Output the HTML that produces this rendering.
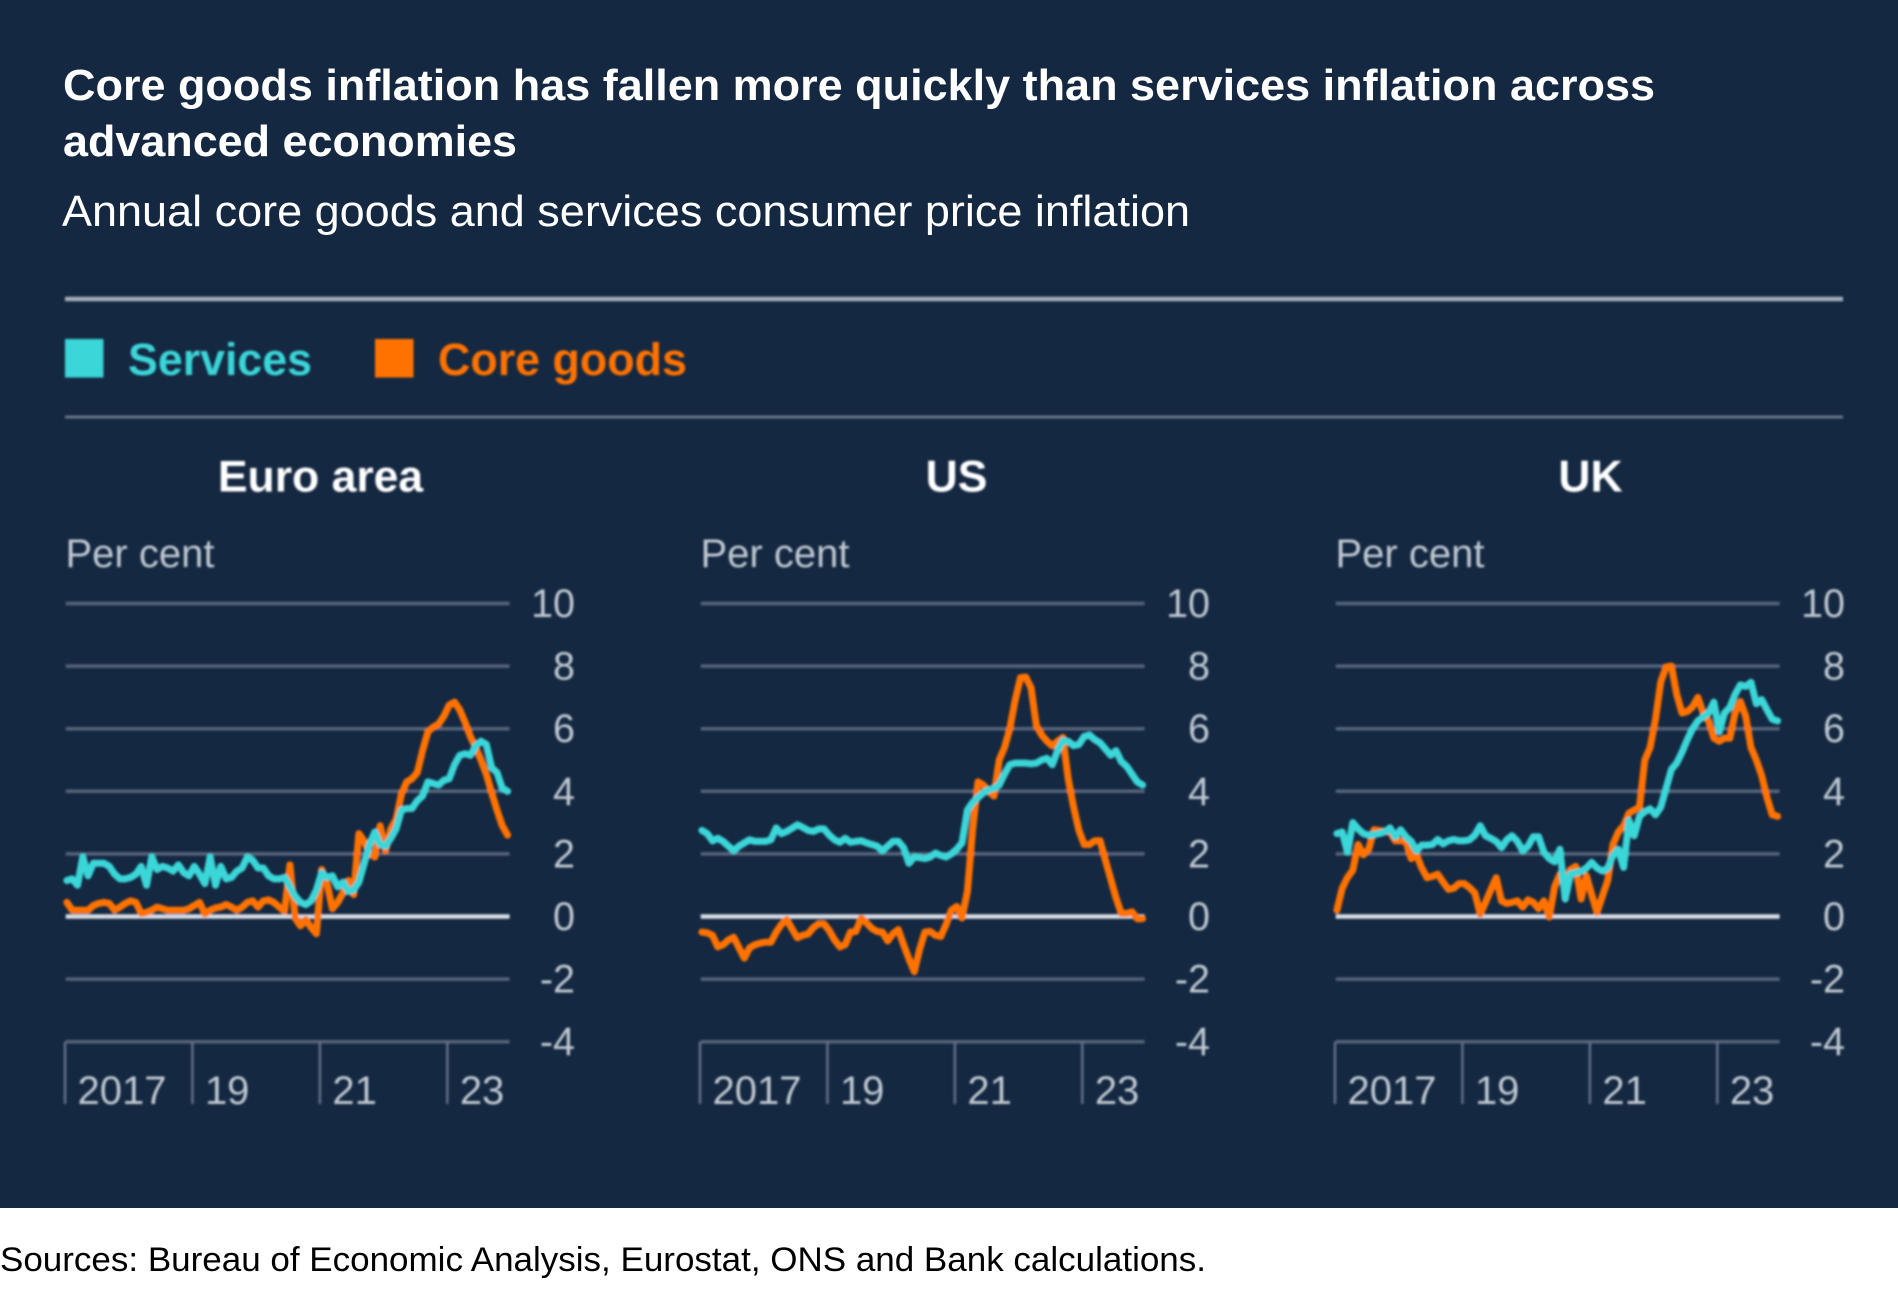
<!DOCTYPE html>
<html lang="en">
<head>
<meta charset="utf-8">
<title>Core goods and services inflation</title>
<style>
html,body{margin:0;padding:0;background:#fff;}
svg{display:block;font-family:"Liberation Sans",Arial,sans-serif;}
</style>
</head>
<body>
<svg id="page" xmlns="http://www.w3.org/2000/svg" width="1898" height="1296" viewBox="0 0 1898 1296">
  <defs>
    <filter id="soft" x="-2%" y="-2%" width="104%" height="104%"><feGaussianBlur stdDeviation="1"/></filter>
  </defs>
  <rect x="0" y="0" width="1898" height="1296" fill="#ffffff"/>
  <rect x="0" y="0" width="1898" height="1208" fill="#142841"/>
  <text x="63" y="100" font-size="44" font-weight="700" fill="#ffffff" textLength="1592" lengthAdjust="spacingAndGlyphs">Core goods inflation has fallen more quickly than services inflation across</text>
  <text x="63" y="156" font-size="44" font-weight="700" fill="#ffffff" textLength="454" lengthAdjust="spacingAndGlyphs">advanced economies</text>
  <text x="62" y="226" font-size="44" fill="#ffffff" textLength="1128" lengthAdjust="spacingAndGlyphs">Annual core goods and services consumer price inflation</text>
  <g id="soft-layer" filter="url(#soft)">
    <line x1="65" x2="1843" y1="299" y2="299" stroke="#a3adb9" stroke-width="4.5"/>
    <line x1="65" x2="1843" y1="417" y2="417" stroke="#67748a" stroke-width="3"/>
    <g>
      <rect x="65" y="339" width="38.5" height="38.5" fill="#3bd6d8"/>
      <text x="128" y="375" font-size="45.5" font-weight="700" fill="#3bd6d8" textLength="184" lengthAdjust="spacingAndGlyphs">Services</text>
    </g>
    <g>
      <rect x="375" y="339" width="38.5" height="38.5" fill="#ff7200"/>
      <text x="438" y="375" font-size="45.5" font-weight="700" fill="#ff7200" textLength="249" lengthAdjust="spacingAndGlyphs">Core goods</text>
    </g>
    <g id="panels"></g>
  </g>
  <text x="0" y="1271" font-size="34" fill="#000000" textLength="1206" lengthAdjust="spacingAndGlyphs">Sources: Bureau of Economic Analysis, Eurostat, ONS and Bank calculations.</text>
</svg>
<script>
const panelNames = ['Euro area', 'US', 'UK'];
const unitLabel = 'Per cent';
const yTickValues = [10, 8, 6, 4, 2, 0, -2, -4];
const xTickMonths = [0, 24, 48, 72];
const xTickLabels = ['2017', '19', '21', '23'];

const euroServices = [1.15,1.2,1.0,1.9,1.3,1.7,1.7,1.7,1.6,1.35,1.2,1.2,1.25,1.35,1.6,1.0,1.9,1.5,1.6,1.55,1.45,1.65,1.4,1.3,1.6,1.35,1.05,1.9,1.0,1.6,1.2,1.25,1.45,1.55,1.9,1.8,1.55,1.55,1.3,1.2,1.2,1.25,0.95,0.65,0.45,0.38,0.5,0.85,1.4,1.25,1.3,0.95,1.1,0.8,0.85,1.1,1.7,2.3,2.7,2.3,2.25,2.5,2.8,3.4,3.45,3.45,3.7,3.85,4.3,4.25,4.2,4.35,4.4,4.85,5.15,5.2,5.15,5.45,5.6,5.5,4.75,4.6,4.1,4.0];
const euroGoods = [0.45,0.2,0.2,0.2,0.2,0.35,0.42,0.45,0.42,0.2,0.3,0.42,0.5,0.45,0.1,0.13,0.2,0.3,0.25,0.2,0.2,0.2,0.2,0.25,0.35,0.45,0.08,0.2,0.27,0.3,0.38,0.3,0.2,0.3,0.45,0.5,0.3,0.5,0.53,0.45,0.3,0.17,1.65,-0.05,-0.3,-0.1,-0.35,-0.55,1.5,1.05,0.25,0.45,0.75,1.15,0.7,2.65,2.4,2.0,1.9,2.9,2.1,2.8,3.1,3.9,4.3,4.4,4.6,5.3,5.9,6.05,6.15,6.4,6.75,6.85,6.6,6.2,5.75,5.4,5.0,4.55,3.95,3.4,2.9,2.6];
const usServices = [2.75,2.65,2.42,2.5,2.4,2.25,2.1,2.25,2.35,2.45,2.4,2.4,2.4,2.45,2.83,2.65,2.72,2.82,2.93,2.85,2.75,2.72,2.8,2.8,2.6,2.45,2.37,2.5,2.37,2.4,2.42,2.35,2.3,2.25,2.1,2.25,2.4,2.4,2.2,1.7,1.9,1.88,1.85,1.9,2.03,1.95,1.9,2.0,2.15,2.35,3.4,3.65,3.8,3.95,4.05,4.1,4.2,4.55,4.85,4.9,4.9,4.9,4.88,4.9,5.0,5.05,4.85,5.3,5.62,5.6,5.46,5.5,5.75,5.8,5.65,5.55,5.35,5.15,5.3,4.95,4.8,4.55,4.3,4.2];
const usGoods = [-0.5,-0.52,-0.6,-0.97,-0.9,-0.75,-0.66,-1.0,-1.33,-1.0,-0.9,-0.85,-0.82,-0.82,-0.5,-0.25,-0.1,-0.4,-0.68,-0.6,-0.56,-0.35,-0.23,-0.23,-0.45,-0.75,-0.97,-0.9,-0.5,-0.48,-0.05,-0.2,-0.38,-0.48,-0.5,-0.78,-0.55,-0.42,-0.9,-1.35,-1.76,-1.05,-0.5,-0.48,-0.6,-0.64,-0.25,0.2,0.32,-0.05,0.8,2.8,4.3,4.2,4.0,3.85,5.0,5.4,6.0,6.9,7.63,7.65,7.3,6.1,5.8,5.6,5.45,5.6,5.72,4.4,3.5,2.75,2.3,2.3,2.42,2.42,1.8,1.2,0.6,0.1,0.1,0.15,-0.07,-0.07];
const ukServices = [2.65,2.7,2.05,3.0,2.8,2.65,2.6,2.62,2.65,2.7,2.83,2.55,2.77,2.55,2.4,2.1,2.28,2.28,2.3,2.46,2.32,2.42,2.46,2.42,2.42,2.45,2.6,2.9,2.58,2.5,2.4,2.2,2.45,2.58,2.4,2.1,2.25,2.55,2.55,2.05,1.85,1.75,2.15,0.56,1.36,1.4,1.44,1.55,1.73,1.55,1.45,1.55,1.95,2.15,1.57,3.07,2.58,3.2,3.35,3.44,3.25,3.5,4.1,4.7,4.9,5.25,5.65,6.0,6.25,6.38,6.5,6.85,5.9,6.5,6.68,7.1,7.4,7.35,7.48,6.8,6.93,6.6,6.3,6.25];
const ukGoods = [0.2,0.9,1.25,1.48,2.3,1.97,2.15,2.77,2.75,2.72,2.7,2.42,2.42,2.4,1.85,1.97,1.55,1.24,1.28,1.35,1.1,0.87,0.9,1.05,1.05,0.92,0.75,0.07,0.45,0.85,1.24,0.5,0.42,0.45,0.5,0.3,0.53,0.45,0.25,0.5,-0.02,0.95,1.35,1.1,1.5,1.6,0.56,1.3,0.7,0.13,0.65,1.15,2.3,2.7,2.9,3.3,3.4,3.5,5.0,5.4,6.3,7.5,7.97,8.0,7.1,6.5,6.55,6.7,7.0,6.5,6.25,5.7,5.6,5.7,5.7,6.5,6.87,6.4,5.4,5.0,4.5,3.8,3.25,3.2];

const panelServices = [euroServices, usServices, ukServices];
const panelGoods = [euroGoods, usGoods, ukGoods];

const SVG_NS = 'http://www.w3.org/2000/svg';
const PANEL_STEP = 635;
const PANEL_LEFT = 65;
const GRID_RIGHT = 509.6;
const MONTH_PX = 5.31;
const POINT_SHIFT = 0.35;
const Y_ZERO = 916.5;
const UNIT_PX = 31.3;
const TITLE_CENTRES = [320.5, 956.5, 1590.5];

function yScale(value) {
  return Y_ZERO - value * UNIT_PX;
}
function xScale(month, panelIndex) {
  return PANEL_LEFT + panelIndex * PANEL_STEP + month * MONTH_PX;
}
function svgEl(tag, parent) {
  const el = document.createElementNS(SVG_NS, tag);
  parent.appendChild(el);
  return el;
}
function linePath(values, panelIndex) {
  return values.map(function (v, i) {
    return (i ? 'L' : 'M') + xScale(i + POINT_SHIFT, panelIndex).toFixed(1) + ' ' + yScale(v).toFixed(1);
  }).join(' ');
}

const root = document.getElementById('panels');

panelNames.forEach(function (panelName, p) {
  const slug = panelName.toLowerCase().replace(/\s+/g, '-');
  const off = p * PANEL_STEP;

  const panel = svgEl('g', root);
  
  

  const title = svgEl('text', panel);
  title.setAttribute('x', TITLE_CENTRES[p]);
  title.setAttribute('y', 491.5);
  title.setAttribute('text-anchor', 'middle');
  title.setAttribute('font-size', '44.5');
  title.setAttribute('font-weight', '700');
  title.setAttribute('fill', '#ffffff');
  title.textContent = panelName;
  
  

  const unit = svgEl('text', panel);
  unit.setAttribute('x', 65.5 + off);
  unit.setAttribute('y', 567);
  unit.setAttribute('font-size', '40');
  unit.setAttribute('fill', '#c0c9d2');
  unit.textContent = unitLabel;
  
  

  yTickValues.forEach(function (tick) {
    const grid = svgEl('line', panel);
    grid.setAttribute('x1', 65.7 + off);
    grid.setAttribute('x2', GRID_RIGHT + off);
    grid.setAttribute('y1', yScale(tick));
    grid.setAttribute('y2', yScale(tick));
    grid.setAttribute('stroke', tick === 0 ? '#d8dde3' : '#56647a');
    grid.setAttribute('stroke-width', tick === 0 ? 4.5 : 3.5);
    
    

    const label = svgEl('text', panel);
    label.setAttribute('x', 575 + off);
    label.setAttribute('y', yScale(tick) + 13.5);
    label.setAttribute('text-anchor', 'end');
    label.setAttribute('font-size', '39.5');
    label.setAttribute('fill', '#c0c9d2');
    label.textContent = String(tick);
    
    
  });

  xTickMonths.forEach(function (month, t) {
    const tx = xScale(month, p);
    const tick = svgEl('line', panel);
    tick.setAttribute('x1', tx);
    tick.setAttribute('x2', tx);
    tick.setAttribute('y1', yScale(-4));
    tick.setAttribute('y2', 1104);
    tick.setAttribute('stroke', '#62708a');
    tick.setAttribute('stroke-width', '2.5');
    
    

    const label = svgEl('text', panel);
    label.setAttribute('x', tx + 12.5);
    label.setAttribute('y', 1104);
    label.setAttribute('font-size', '40');
    label.setAttribute('fill', '#c0c9d2');
    label.textContent = xTickLabels[t];
    
    
  });

  const goods = svgEl('path', panel);
  goods.setAttribute('d', linePath(panelGoods[p], p));
  goods.setAttribute('fill', 'none');
  goods.setAttribute('stroke', '#ff7200');
  goods.setAttribute('stroke-width', '7');
  goods.setAttribute('stroke-linejoin', 'round');
  goods.setAttribute('stroke-linecap', 'round');
  
  

  const services = svgEl('path', panel);
  services.setAttribute('d', linePath(panelServices[p], p));
  services.setAttribute('fill', 'none');
  services.setAttribute('stroke', '#3bd6d8');
  services.setAttribute('stroke-width', '7');
  services.setAttribute('stroke-linejoin', 'round');
  services.setAttribute('stroke-linecap', 'round');
  
  
});
</script>
</body>
</html>
